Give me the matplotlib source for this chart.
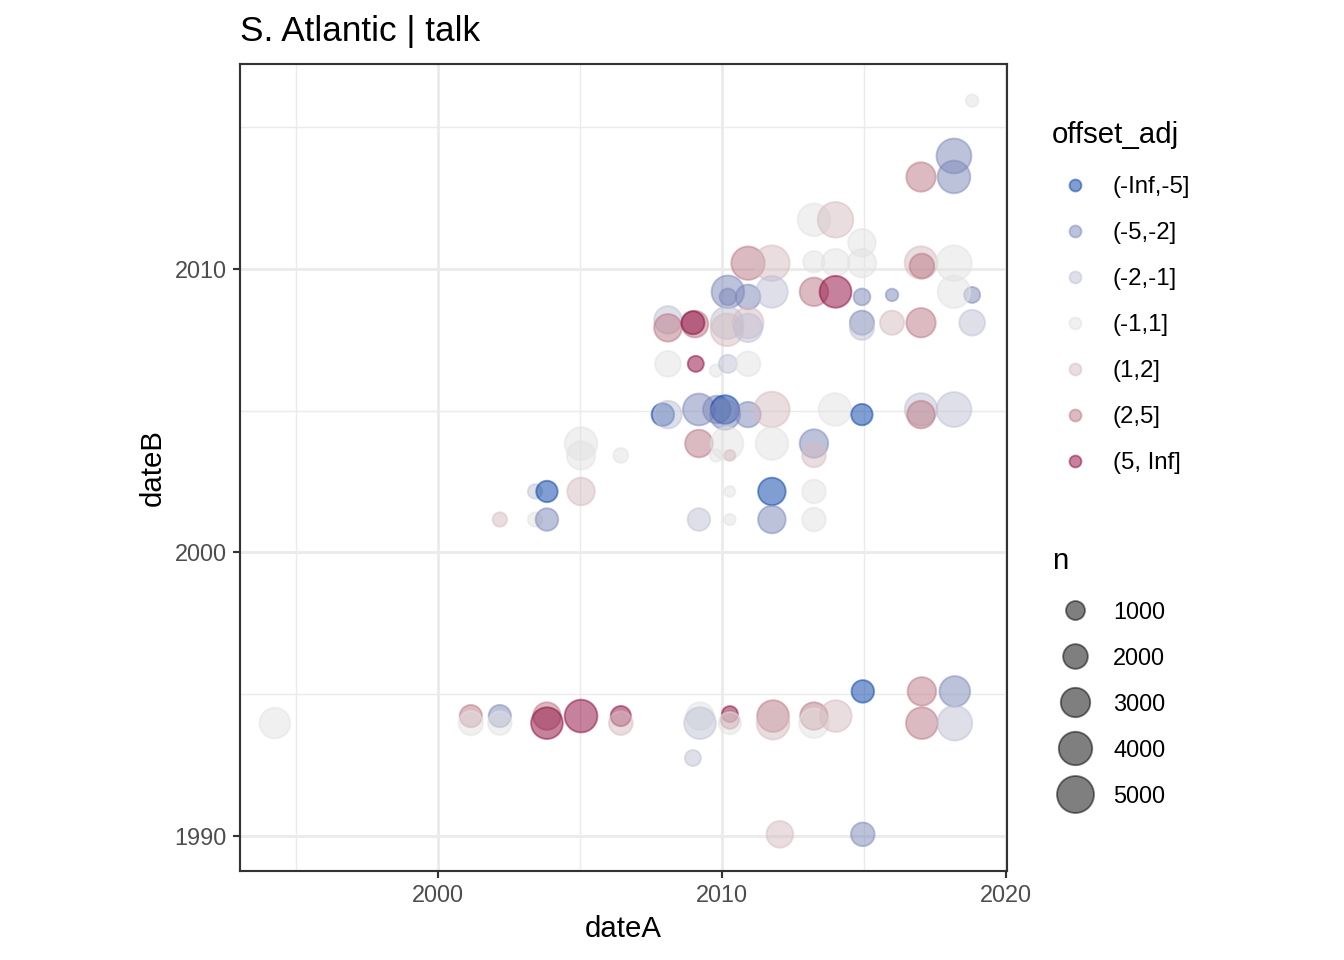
import numpy as np
import matplotlib.pyplot as plt
from matplotlib.colors import to_rgba

plt.rcParams['font.family'] = ['Liberation Sans', 'DejaVu Sans']

# offset_adj 的分组和颜色
offset_levels = ['(-Inf,-5]', '(-5,-2]', '(-2,-1]', '(-1,1]', '(1,2]', '(2,5]', '(5, Inf]']
level_colors = ['#023FA5', '#7D87B9', '#BEC1D4', '#E2E2E2', '#D6BCC0', '#BB7784', '#8E063B']
size_breaks = [1000, 2000, 3000, 4000, 5000]

'''
数据 (从图上读出来的)
'''
date_a = [2018.81, 2018.17, 2018.17, 2017.01, 2013.24, 2014.00, 2014.93,
          2010.92, 2011.76, 2013.24, 2014.00, 2014.93, 2017.01, 2017.04, 2018.17,
          2010.21, 2010.21, 2010.92, 2011.76, 2013.24, 2014.00, 2014.93, 2015.99, 2018.81, 2018.17,
          2008.10, 2008.10, 2009.05, 2008.98, 2010.18, 2010.18, 2010.92, 2010.92,
          2014.93, 2014.93, 2015.99, 2017.01, 2018.81,
          2008.10, 2009.08, 2009.79, 2010.21, 2010.92,
          2007.92, 2008.10, 2009.19, 2009.82, 2010.11, 2010.11, 2010.92, 2011.76,
          2013.98, 2014.93, 2017.01, 2017.01, 2018.17,
          2005.04, 2005.04, 2006.44, 2009.19, 2010.18, 2009.79, 2010.28, 2011.76, 2013.24, 2013.24,
          2003.42, 2003.84, 2005.04, 2010.28, 2011.76, 2013.24,
          2002.18, 2003.42, 2003.84, 2009.19, 2010.28, 2011.76, 2013.24,
          2014.96, 2017.04, 2018.20,
          1994.26, 2001.16, 2001.16, 2002.18, 2002.18, 2003.84, 2003.84, 2005.04,
          2006.44, 2006.44, 2009.23, 2009.23, 2010.28, 2010.28, 2010.28,
          2011.80, 2011.80, 2013.24, 2013.24, 2014.01, 2017.04, 2018.20,
          2008.98, 2012.04, 2014.96]
date_b = [2015.93, 2013.98, 2013.24, 2013.24, 2011.73, 2011.73, 2010.92,
          2010.20, 2010.20, 2010.25, 2010.22, 2010.20, 2010.22, 2010.10, 2010.20,
          2009.19, 2009.01, 2009.01, 2009.19, 2009.19, 2009.19, 2009.01, 2009.08, 2009.08, 2009.19,
          2008.20, 2007.92, 2008.05, 2008.10, 2008.10, 2007.85, 2008.10, 2007.92,
          2008.10, 2007.92, 2008.10, 2008.10, 2008.10,
          2006.65, 2006.65, 2006.41, 2006.65, 2006.65,
          2004.86, 2004.86, 2005.04, 2005.04, 2005.04, 2004.86, 2004.86, 2005.04,
          2005.04, 2004.86, 2005.04, 2004.86, 2005.04,
          2003.84, 2003.42, 2003.42, 2003.84, 2003.84, 2003.42, 2003.42, 2003.84, 2003.84, 2003.42,
          2002.15, 2002.15, 2002.15, 2002.15, 2002.15, 2002.15,
          2001.16, 2001.16, 2001.16, 2001.16, 2001.16, 2001.16, 2001.16,
          1995.10, 1995.10, 1995.10,
          1993.98, 1994.23, 1993.98, 1994.23, 1993.98, 1994.23, 1993.98, 1994.23,
          1994.23, 1993.98, 1994.23, 1993.98, 1994.30, 1994.10, 1993.98,
          1994.23, 1993.98, 1994.23, 1993.98, 1994.23, 1993.98, 1993.98,
          1992.75, 1990.06, 1990.06]
offset_idx = [3, 1, 1, 5, 3, 4, 3,
              5, 4, 3, 3, 3, 4, 5, 3,
              1, 1, 1, 2, 5, 6, 1, 1, 1, 3,
              2, 5, 5, 6, 2, 4, 4, 2,
              1, 2, 4, 5, 2,
              3, 6, 3, 2, 3,
              0, 2, 1, 1, 0, 1, 1, 4,
              3, 0, 2, 5, 2,
              3, 3, 3, 5, 3, 3, 4, 3, 1, 4,
              2, 0, 4, 3, 0, 3,
              4, 3, 1, 2, 3, 1, 3,
              0, 5, 1,
              3, 5, 3, 1, 3, 5, 6, 6,
              6, 4, 3, 2, 6, 5, 3,
              5, 4, 5, 3, 4, 5, 2,
              2, 4, 1]
n = [200, 4400, 3800, 3000, 3800, 4600, 2600,
     4000, 4600, 1400, 2600, 2800, 3800, 2000, 4600,
     3800, 700, 2000, 3600, 2800, 3600, 700, 200, 600, 3800,
     2600, 2600, 2400, 1700, 3800, 3800, 3400, 2800,
     1900, 1900, 1900, 3000, 2200,
     2200, 600, 200, 900, 2000,
     1600, 2600, 3600, 2600, 2800, 3200, 2150, 4600,
     3800, 1400, 3800, 2600, 4400,
     3800, 2800, 450, 2600, 3800, 200, 60, 3800, 2800, 1800,
     400, 1400, 2600, 50, 2600, 1800,
     400, 400, 1600, 1600, 100, 2600, 1800,
     1600, 2800, 3300,
     3300, 1550, 1940, 1550, 1800, 2590, 3570, 3830,
     1200, 1800, 2590, 3570, 600, 900, 1550,
     3570, 3830, 2590, 3060, 3570, 3570, 4390,
     600, 2400, 1800]

ALPHA = 0.5


def point_area(v):
    # 面积和 n 成线性关系 (pt^2)
    return 15 + 0.0355 * np.asarray(v, dtype=float)


def expand(v):
    lo, hi = min(v), max(v)
    d = (hi - lo) * 0.05
    return lo - d, hi + d


W, H = 1344, 960
fig = plt.figure(figsize=(W / 192, H / 192), dpi=192)
ax = fig.add_axes([240 / W, 89 / H, 767 / W, 807 / H])

cols = [to_rgba(level_colors[i], ALPHA) for i in offset_idx]
ax.scatter(date_a, date_b, s=point_area(n), c=cols, edgecolors=cols,
           linewidths=0.7, zorder=3)

ax.set_xlim(*expand(date_a))
ax.set_ylim(*expand(date_b))
ax.set_xticks([2000, 2010, 2020])
ax.set_xticks([1995, 2005, 2015], minor=True)
ax.set_yticks([1990, 2000, 2010])
ax.set_yticks([1995, 2005, 2015], minor=True)
ax.grid(which='major', color='#EBEBEB', linewidth=1.07)
ax.grid(which='minor', color='#EBEBEB', linewidth=0.55)
ax.set_axisbelow(True)
ax.tick_params(which='major', length=2.75, width=0.8, color='#333333',
               labelsize=8.8, labelcolor='#4D4D4D', pad=2.2)
ax.tick_params(which='minor', length=0)
for sp in ax.spines.values():
    sp.set_color('#333333')
    sp.set_linewidth(0.8)

ax.set_xlabel('dateA', fontsize=11, labelpad=2.75)
ax.set_ylabel('dateB', fontsize=11, labelpad=2.75)
ax.set_title('S. Atlantic | talk', loc='left', fontsize=13.2, pad=8.8)

'''
图例 (手动画, 坐标用像素)
'''
lg = fig.add_axes([0, 0, 1, 1])
lg.set_xlim(0, W)
lg.set_ylim(H, 0)
lg.axis('off')

lg.text(1052, 143, 'offset_adj', fontsize=11, va='baseline', ha='left')
for k, (lab, colr) in enumerate(zip(offset_levels, level_colors)):
    yk = 185 + 46 * k
    rc = to_rgba(colr, ALPHA)
    lg.scatter([1075], [yk], s=20, c=[rc], edgecolors=[rc], linewidths=0.7)
    lg.text(1113, yk + 2.5, lab, fontsize=9, va='center', ha='left')

lg.text(1052, 569, 'n', fontsize=11, va='baseline', ha='left')
for k, b in enumerate(size_breaks):
    yk = 610 + 46 * k
    rc = to_rgba('black', ALPHA)
    lg.scatter([1075], [yk], s=point_area([b]), c=[rc], edgecolors=[rc], linewidths=0.7)
    lg.text(1113, yk + 2.5, str(b), fontsize=8.8, va='center', ha='left')

fig.savefig('out.png', dpi=192)
